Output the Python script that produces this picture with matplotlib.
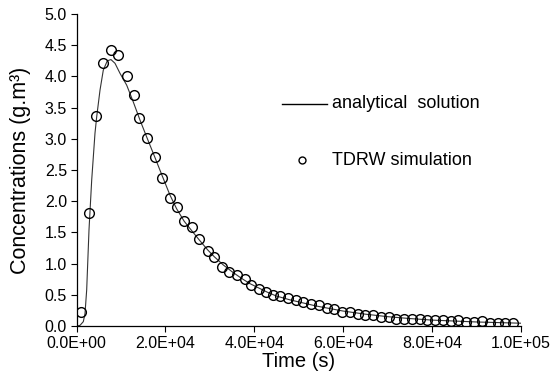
import matplotlib
matplotlib.use("Agg")
import matplotlib.pyplot as plt
from matplotlib.ticker import FuncFormatter, MultipleLocator

plt.rcParams['font.family'] = ['Liberation Sans', 'DejaVu Sans']

# TDRW simulation points (time s, concentration g/m3)
sim_t = [970, 2770, 4280, 6000, 7800, 9300, 11260, 12900, 14030, 15770,
         17630, 19280, 20990, 22520, 24230, 26040, 27600, 29500, 31000, 32650,
         34370, 36040, 37900, 39260, 41060, 42640, 44280, 45790, 47500, 49300,
         51000, 52800, 54500, 56300, 58000, 59800, 61500, 63300, 65000, 66800,
         68500, 70300, 72000, 73800, 75500, 77300, 79000, 80800, 82500, 84300,
         86000, 87800, 89500, 91300, 93000, 94800, 96500, 98300]
sim_c = [0.23, 1.81, 3.37, 4.22, 4.43, 4.34, 4.00, 3.70, 3.34, 3.02,
         2.71, 2.38, 2.05, 1.91, 1.68, 1.59, 1.39, 1.21, 1.11, 0.95,
         0.86, 0.81, 0.75, 0.66, 0.59, 0.55, 0.50, 0.48, 0.45, 0.41,
         0.39, 0.35, 0.33, 0.29, 0.27, 0.23, 0.23, 0.20, 0.18, 0.17,
         0.14, 0.15, 0.12, 0.12, 0.11, 0.12, 0.10, 0.10, 0.09, 0.08,
         0.09, 0.07, 0.06, 0.08, 0.05, 0.05, 0.05, 0.05]

# Analytical solution curve
ana_t = [0, 740, 1490, 1870, 2250, 2770, 3380, 4120, 4500, 5250, 5990, 6890,
         7720, 8630, 9750, 11260, 12750, 14260, 15760, 17630, 19300, 21000,
         22500, 24200, 26000, 27600, 29500, 31000, 33000, 35000, 37000, 39000,
         41000, 43000, 45000, 48000, 51000, 54000, 57000, 60000, 65000, 70000,
         75000, 80000, 85000, 90000, 95000, 100000]
ana_c = [0.0, 0.01, 0.07, 0.20, 0.58, 1.54, 2.34, 3.09, 3.35, 3.78, 4.10, 4.25,
         4.27, 4.21, 4.05, 3.86, 3.59, 3.30, 3.03, 2.70, 2.40, 2.10,
         1.88, 1.68, 1.52, 1.38, 1.22, 1.11, 0.98, 0.87, 0.77, 0.68,
         0.61, 0.54, 0.48, 0.42, 0.37, 0.32, 0.28, 0.24, 0.19, 0.15,
         0.12, 0.095, 0.08, 0.065, 0.055, 0.045]

legend_labels = ["analytical  solution", "TDRW simulation"]

fig = plt.figure(figsize=(5.57, 3.86), dpi=100)
ax = fig.add_axes([0.1377, 0.1554, 0.797, 0.8083])

ax.plot(ana_t, ana_c, color='#333333', lw=0.8, zorder=2)
ax.plot(sim_t, sim_c, linestyle='none', marker='o', ms=7.0, mfc='none',
        mec='black', mew=1.0, zorder=3)

ax.set_xlim(0, 100000)
ax.set_ylim(0, 5.0)
ax.xaxis.set_major_locator(MultipleLocator(20000))
ax.yaxis.set_major_locator(MultipleLocator(0.5))

def sci(v, pos):
    if v == 0:
        return "0.0E+00"
    return "%.1E" % v
ax.xaxis.set_major_formatter(FuncFormatter(sci))
ax.yaxis.set_major_formatter(FuncFormatter(lambda v, p: "%.1f" % v))

for sp in ['top', 'right']:
    ax.spines[sp].set_visible(False)
for sp in ['left', 'bottom']:
    ax.spines[sp].set_linewidth(0.9)
ax.tick_params(direction='out', length=4, width=0.8, labelsize=11.5, pad=3)

ax.set_xlabel("Time (s)", fontsize=14.5, labelpad=1)
ax.set_ylabel("Concentrations (g.m³)", fontsize=15.5, labelpad=10)

# manual legend
ax.plot([0.462, 0.564], [0.7125, 0.7125], transform=ax.transAxes,
        color='black', lw=1.0, clip_on=False)
ax.text(0.575, 0.7125, legend_labels[0], transform=ax.transAxes,
        fontsize=13, va='center', ha='left')
ax.plot([0.507], [0.532], transform=ax.transAxes, marker='o', ms=5,
        mfc='none', mec='black', mew=1.0, linestyle='none', clip_on=False)
ax.text(0.575, 0.532, legend_labels[1], transform=ax.transAxes,
        fontsize=13, va='center', ha='left')

fig.savefig("out.png", dpi=100)
